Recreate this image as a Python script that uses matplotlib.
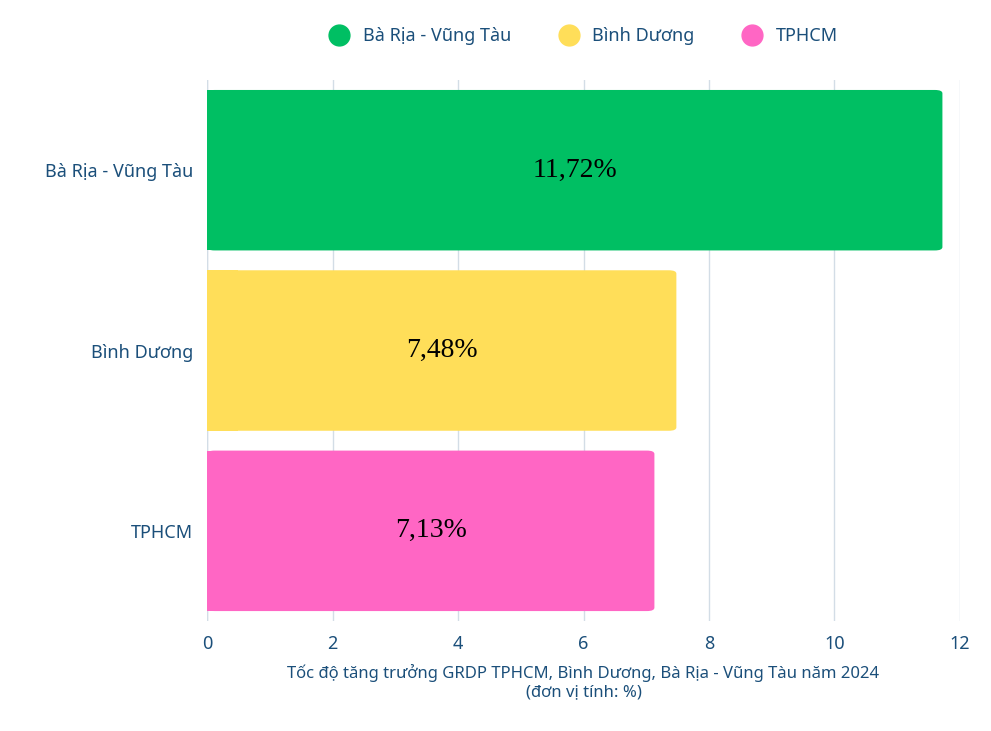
import matplotlib
matplotlib.use("Agg")
import matplotlib.pyplot as plt
from matplotlib.patches import FancyBboxPatch
from matplotlib.lines import Line2D

categories = ["Bà Rịa - Vũng Tàu", "Bình Dương", "TPHCM"]
values = [11.72, 7.48, 7.13]
value_labels = ["11,72%", "7,48%", "7,13%"]
colors = ["#00BF63", "#FFDE59", "#FF66C4"]
xticks = [0, 2, 4, 6, 8, 10, 12]

txt = "#1B4F7A"
plt.rcParams["font.family"] = "Noto Sans"

fig = plt.figure(figsize=(9.91, 7.31), dpi=100)
ax = fig.add_axes([0.2089, 0.1505, 0.7598, 0.740])

h = 0.89
ypos = [2, 1, 0]
for y, v, c, lab in zip(ypos, values, colors, value_labels):
    # square left edge, rounded right corners
    ax.add_patch(FancyBboxPatch((0, y - h / 2), v, h,
                                boxstyle="round,pad=0,rounding_size=0.12",
                                mutation_aspect=1 / 6.5,
                                fc=c, ec="none", zorder=3))
    ax.add_patch(plt.Rectangle((0, y - h / 2), 0.5, h, fc=c, ec="none", zorder=3))
    ax.text(v / 2, y, lab, ha="center", va="center", fontsize=20,
            family="Liberation Serif", color="black", zorder=4)

ax.set_xlim(0, 12)
ax.set_ylim(-0.5, 2.5)
ax.set_xticks(xticks)
ax.set_xticklabels([str(t) for t in xticks], fontsize=13, color=txt)
ax.set_yticks(ypos)
ax.set_yticklabels(categories, fontsize=13, color=txt)
ax.tick_params(length=0, pad=10)
ax.grid(axis="x", color="#D3DDE6", lw=1, zorder=0)
for s in ax.spines.values():
    s.set_visible(False)
ax.axvline(0, color="#D3DDE6", lw=1, zorder=0)

ax.set_xlabel("Tốc độ tăng trưởng GRDP TPHCM, Bình Dương, Bà Rịa - Vũng Tàu năm 2024\n(đơn vị tính: %)",
              fontsize=12, color=txt, labelpad=8)

handles = [Line2D([], [], marker="o", ls="none", ms=15, mfc=c, mec=c) for c in colors]
fig.legend(handles, categories, loc="upper center", bbox_to_anchor=(0.585, 0.985),
           ncol=3, frameon=False, fontsize=13, labelcolor=txt,
           handletextpad=0.3, columnspacing=2.2)

fig.savefig("out.png", dpi=100)
